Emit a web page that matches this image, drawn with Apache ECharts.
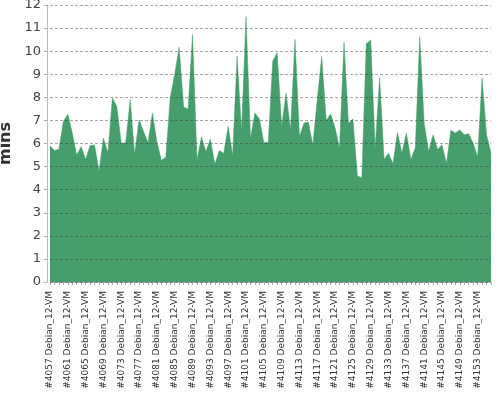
<!DOCTYPE html>
<html><head><meta charset="utf-8">
<script src="https://cdn.jsdelivr.net/npm/echarts@6/dist/echarts.min.js"></script>
<style>html,body{margin:0;padding:0;background:#fff}#c{width:500px;height:400px}</style>
</head><body><div id="c"></div>
<script>
const buildNumbers = [4057,4058,4059,4060,4061,4062,4063,4064,4065,4066,4067,4068,4069,4070,4071,4072,4073,4074,4075,4076,4077,4078,4079,4080,4081,4082,4083,4084,4085,4086,4087,4088,4089,4090,4091,4092,4093,4094,4095,4096,4097,4098,4099,4100,4101,4102,4103,4104,4105,4106,4107,4108,4109,4110,4111,4112,4113,4114,4115,4116,4117,4118,4119,4120,4121,4122,4123,4124,4125,4126,4127,4128,4129,4130,4131,4132,4133,4134,4135,4136,4137,4138,4139,4140,4141,4142,4143,4144,4145,4146,4147,4148,4149,4150,4151,4152,4153,4154,4155,4156];
const jobName = "Debian_12-VM";
const durations = [5.9,5.7,5.75,6.95,7.27,6.45,5.5,5.87,5.32,5.91,5.94,4.81,6.23,5.6,7.97,7.6,6.0,6.04,7.9,5.55,7.03,6.52,6.04,7.32,6.08,5.27,5.4,8.0,9.0,10.17,7.58,7.49,10.72,5.29,6.28,5.65,6.19,5.1,5.7,5.58,6.74,5.48,9.78,6.52,11.5,6.23,7.32,7.07,6.04,6.05,9.57,9.93,6.74,8.19,6.59,10.51,6.3,6.88,6.93,5.94,7.9,9.78,7.0,7.28,6.67,5.8,10.39,6.88,7.06,4.59,4.52,10.32,10.48,5.8,8.84,5.32,5.58,5.12,6.48,5.58,6.45,5.32,5.8,10.62,6.88,5.65,6.38,5.75,5.94,5.14,6.57,6.45,6.59,6.38,6.42,6.01,5.41,8.84,6.38,5.58];
const yTicks = {min: 0, max: 12, interval: 1};
const yName = "mins";

const categories = buildNumbers.map(n => "#" + n + " " + jobName);
const chart = echarts.init(document.getElementById('c'));
chart.setOption({
  animation: false,
  grid: {left: 50, right: 9, top: 5, bottom: 118, containLabel: false, outerBoundsMode: 'none'},
  xAxis: {
    type: 'category', data: categories, boundaryGap: false, offset: 4,
    axisLine: {lineStyle: {color: '#bbbbbb'}},
    axisTick: {show: true, interval: 0, length: 3, lineStyle: {color: '#aaaaaa'}},
    axisLabel: {interval: 3, rotate: 90, fontSize: 9, color: '#333', fontFamily: 'DejaVu Sans', margin: 5}
  },
  yAxis: {
    type: 'value', min: yTicks.min, max: yTicks.max, interval: yTicks.interval, offset: 3, z: 5,
    name: yName, nameLocation: 'middle', nameGap: 29,
    nameTextStyle: {fontSize: 16, fontWeight: 'bold', color: '#333', fontFamily: 'DejaVu Sans'},
    axisLine: {show: true, lineStyle: {color: '#bbbbbb'}},
    axisTick: {show: true, length: 3, lineStyle: {color: '#aaaaaa'}},
    axisLabel: {fontSize: 13, color: '#444', fontFamily: 'DejaVu Sans', margin: 6},
    splitLine: {show: true, lineStyle: {type: [3, 2], color: 'rgba(60,60,60,0.45)', width: 1}}
  },
  series: [{
    type: 'line', data: durations, showSymbol: false, symbol: 'none',
    lineStyle: {width: 0.5, color: '#459e6c'},
    areaStyle: {color: '#459e6c', opacity: 1}
  }]
});
</script></body></html>
